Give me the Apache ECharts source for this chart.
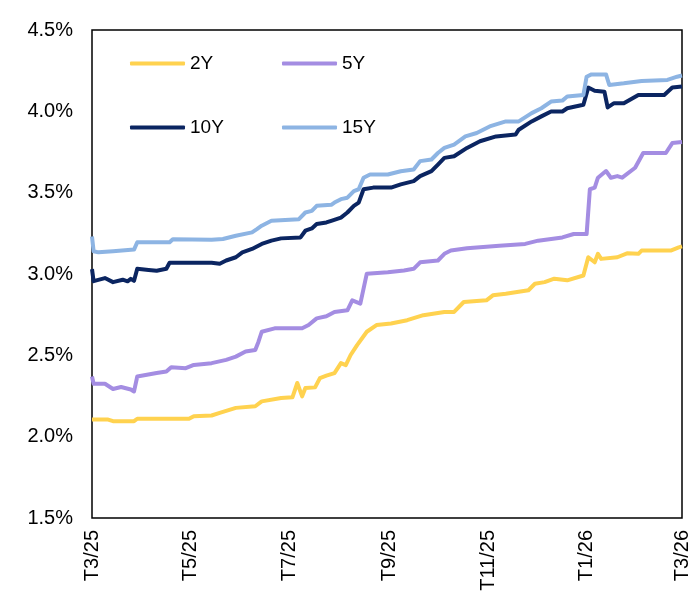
<!DOCTYPE html>
<html>
<head>
<meta charset="utf-8">
<script src="https://cdn.jsdelivr.net/npm/echarts@6/dist/echarts.min.js"></script>
<style>
  html, body { margin: 0; padding: 0; background: #fff; }
  #chart { width: 692px; height: 595px; }
</style>
</head>
<body>
<div id="chart"></div>
<script>
// yields (%)
const y2 = [
  ['2025-03-01', 2.105], ['2025-03-11', 2.105], ['2025-03-14', 2.095], ['2025-03-27', 2.095],
  ['2025-03-29', 2.110], ['2025-04-30', 2.110], ['2025-05-03', 2.126], ['2025-05-14', 2.130],
  ['2025-05-19', 2.146], ['2025-05-29', 2.177], ['2025-06-10', 2.187], ['2025-06-14', 2.217],
  ['2025-06-26', 2.238], ['2025-07-03', 2.242], ['2025-07-06', 2.330], ['2025-07-09', 2.248],
  ['2025-07-11', 2.299], ['2025-07-17', 2.303], ['2025-07-20', 2.360], ['2025-07-24', 2.375],
  ['2025-07-29', 2.391], ['2025-08-02', 2.452], ['2025-08-05', 2.440], ['2025-08-08', 2.502],
  ['2025-08-12', 2.563], ['2025-08-18', 2.645], ['2025-08-24', 2.686], ['2025-09-02', 2.696],
  ['2025-09-12', 2.716], ['2025-09-22', 2.747], ['2025-10-05', 2.767], ['2025-10-11', 2.767],
  ['2025-10-17', 2.828], ['2025-10-31', 2.838], ['2025-11-04', 2.869], ['2025-11-12', 2.879],
  ['2025-11-26', 2.900], ['2025-11-30', 2.940], ['2025-12-06', 2.950], ['2025-12-12', 2.971],
  ['2025-12-20', 2.961], ['2025-12-30', 2.991], ['2026-01-02', 3.103], ['2026-01-06', 3.072],
  ['2026-01-08', 3.124], ['2026-01-10', 3.093], ['2026-01-20', 3.103], ['2026-01-26', 3.127],
  ['2026-02-02', 3.124], ['2026-02-04', 3.144], ['2026-02-22', 3.144], ['2026-02-27', 3.164],
  ['2026-03-01', 3.170]
]
const y5 = [
  ['2025-03-01', 2.370], ['2025-03-02', 2.325], ['2025-03-09', 2.325], ['2025-03-14', 2.293],
  ['2025-03-19', 2.305], ['2025-03-25', 2.290], ['2025-03-27', 2.278], ['2025-03-29', 2.370],
  ['2025-04-10', 2.391], ['2025-04-16', 2.400], ['2025-04-19', 2.427], ['2025-04-28', 2.421],
  ['2025-05-03', 2.441], ['2025-05-14', 2.452], ['2025-05-23', 2.472], ['2025-05-29', 2.492],
  ['2025-06-04', 2.523], ['2025-06-10', 2.533], ['2025-06-12', 2.584], ['2025-06-14', 2.645],
  ['2025-06-22', 2.666], ['2025-07-09', 2.666], ['2025-07-13', 2.686], ['2025-07-18', 2.727],
  ['2025-07-24', 2.740], ['2025-07-29', 2.767], ['2025-08-06', 2.777], ['2025-08-09', 2.838],
  ['2025-08-14', 2.818], ['2025-08-18', 3.002], ['2025-08-31', 3.011], ['2025-09-10', 3.022],
  ['2025-09-16', 3.032], ['2025-09-20', 3.072], ['2025-10-01', 3.083], ['2025-10-05', 3.124],
  ['2025-10-09', 3.144], ['2025-10-19', 3.158], ['2025-11-08', 3.174], ['2025-11-24', 3.185],
  ['2025-12-02', 3.205], ['2025-12-17', 3.225], ['2025-12-24', 3.246], ['2026-01-01', 3.246],
  ['2026-01-03', 3.521], ['2026-01-06', 3.531], ['2026-01-08', 3.592], ['2026-01-13', 3.633],
  ['2026-01-16', 3.592], ['2026-01-20', 3.602], ['2026-01-23', 3.592], ['2026-01-31', 3.653],
  ['2026-02-05', 3.744], ['2026-02-19', 3.744], ['2026-02-23', 3.805], ['2026-03-01', 3.812]
]
const y10 = [
  ['2025-03-01', 3.030], ['2025-03-02', 2.956], ['2025-03-09', 2.975], ['2025-03-14', 2.950],
  ['2025-03-20', 2.965], ['2025-03-23', 2.955], ['2025-03-25', 2.970], ['2025-03-27', 2.958],
  ['2025-03-29', 3.032], ['2025-04-05', 3.025], ['2025-04-10', 3.020], ['2025-04-16', 3.032],
  ['2025-04-18', 3.069], ['2025-05-14', 3.069], ['2025-05-19', 3.063], ['2025-05-23', 3.083],
  ['2025-05-29', 3.103], ['2025-06-02', 3.133], ['2025-06-08', 3.154], ['2025-06-14', 3.185],
  ['2025-06-20', 3.205], ['2025-06-26', 3.219], ['2025-07-08', 3.225], ['2025-07-11', 3.266],
  ['2025-07-15', 3.280], ['2025-07-18', 3.307], ['2025-07-24', 3.317], ['2025-07-27', 3.327],
  ['2025-08-02', 3.347], ['2025-08-06', 3.378], ['2025-08-10', 3.419], ['2025-08-13', 3.439],
  ['2025-08-16', 3.521], ['2025-08-22', 3.531], ['2025-09-02', 3.531], ['2025-09-08', 3.551],
  ['2025-09-16', 3.571], ['2025-09-20', 3.602], ['2025-09-27', 3.632], ['2025-10-01', 3.673],
  ['2025-10-05', 3.714], ['2025-10-11', 3.724], ['2025-10-19', 3.775], ['2025-10-27', 3.816],
  ['2025-11-06', 3.846], ['2025-11-18', 3.857], ['2025-11-20', 3.887], ['2025-11-28', 3.938],
  ['2025-12-04', 3.969], ['2025-12-10', 3.999], ['2025-12-17', 3.999], ['2025-12-20', 4.019],
  ['2025-12-30', 4.040], ['2026-01-02', 4.146], ['2026-01-06', 4.126], ['2026-01-12', 4.121],
  ['2026-01-14', 4.024], ['2026-01-18', 4.050], ['2026-01-24', 4.050], ['2026-02-02', 4.101],
  ['2026-02-18', 4.101], ['2026-02-23', 4.146], ['2026-03-01', 4.152]
]
const y15 = [
  ['2025-03-01', 3.230], ['2025-03-02', 3.140], ['2025-03-05', 3.133], ['2025-03-14', 3.140],
  ['2025-03-27', 3.150], ['2025-03-29', 3.195], ['2025-04-18', 3.195], ['2025-04-20', 3.214],
  ['2025-05-14', 3.210], ['2025-05-21', 3.215], ['2025-05-29', 3.235], ['2025-06-08', 3.256],
  ['2025-06-11', 3.276], ['2025-06-14', 3.297], ['2025-06-20', 3.327], ['2025-07-07', 3.337],
  ['2025-07-11', 3.378], ['2025-07-15', 3.388], ['2025-07-18', 3.419], ['2025-07-27', 3.425],
  ['2025-07-29', 3.439], ['2025-08-02', 3.460], ['2025-08-06', 3.469], ['2025-08-10', 3.510],
  ['2025-08-13', 3.521], ['2025-08-16', 3.592], ['2025-08-20', 3.612], ['2025-08-31', 3.612],
  ['2025-09-08', 3.632], ['2025-09-16', 3.643], ['2025-09-20', 3.694], ['2025-09-27', 3.704],
  ['2025-10-01', 3.744], ['2025-10-05', 3.775], ['2025-10-11', 3.796], ['2025-10-18', 3.846],
  ['2025-10-25', 3.867], ['2025-11-02', 3.907], ['2025-11-12', 3.938], ['2025-11-20', 3.938],
  ['2025-11-28', 3.989], ['2025-12-04', 4.019], ['2025-12-10', 4.060], ['2025-12-17', 4.066],
  ['2025-12-20', 4.091], ['2025-12-30', 4.101], ['2026-01-01', 4.213], ['2026-01-04', 4.227],
  ['2026-01-13', 4.227], ['2026-01-15', 4.162], ['2026-01-24', 4.172], ['2026-02-04', 4.187],
  ['2026-02-20', 4.193], ['2026-02-26', 4.213], ['2026-03-01', 4.220]
]
const seriesNames = ['2Y', '5Y', '10Y', '15Y']
const colors = ['#FFD24F', '#A48DE2', '#0B2561', '#8DB4E3']
const tickMonths = ['2025-03-01', '2025-05-01', '2025-07-01', '2025-09-01', '2025-11-01', '2026-01-01', '2026-03-01']

const font = 'Arial, "Liberation Sans", sans-serif'
function toTs(s) {
  const p = s.split('-')
  return +new Date(+p[0], +p[1] - 1, +p[2])
}
function toPairs(arr) {
  return arr.map(d => [toTs(d[0]), d[1]])
}
const allData = [y2, y5, y10, y15]

const chart = echarts.init(document.getElementById('chart'))

// legend: two columns, two rows inside the plot
const legendPos = [
  { left: 130, top: 54 }, { left: 282, top: 54 },
  { left: 130, top: 118 }, { left: 282, top: 118 }
]

chart.setOption({
  animation: false,
  backgroundColor: '#fff',
  grid: {
    left: 92,
    right: 4,
    top: 30,
    bottom: 77,
    show: true,
    borderColor: '#000',
    borderWidth: 1.5
  },
  legend: seriesNames.map((n, i) => ({
    data: [n],
    left: legendPos[i].left,
    top: legendPos[i].top,
    padding: 0,
    icon: 'roundRect',
    itemWidth: 55,
    itemHeight: 4,
    textStyle: { fontFamily: font, fontSize: 19, color: '#000' }
  })),
  xAxis: {
    type: 'value',
    min: toTs(tickMonths[0]),
    max: toTs(tickMonths[tickMonths.length - 1]),
    axisLine: { show: false },
    axisTick: { show: false },
    splitLine: { show: false },
    axisLabel: {
      customValues: tickMonths.map(toTs),
      rotate: 90,
      margin: 12,
      fontFamily: font,
      fontSize: 20,
      color: '#000',
      formatter: function (v) {
        const d = new Date(v)
        return 'T' + (d.getMonth() + 1) + '/' + String(d.getFullYear()).slice(2)
      }
    }
  },
  yAxis: {
    type: 'value',
    min: 1.5,
    max: 4.5,
    interval: 0.5,
    axisLine: { show: false },
    axisTick: { show: false },
    splitLine: { show: false },
    axisLabel: {
      margin: 19,
      fontFamily: font,
      fontSize: 20,
      color: '#000',
      formatter: v => v.toFixed(1) + '%'
    }
  },
  series: seriesNames.map((n, i) => ({
    name: n,
    type: 'line',
    data: toPairs(allData[i]),
    showSymbol: false,
    symbol: 'none',
    color: colors[i],
    lineStyle: { width: 4, color: colors[i], join: 'round' }
  }))
})
</script>
</body>
</html>
